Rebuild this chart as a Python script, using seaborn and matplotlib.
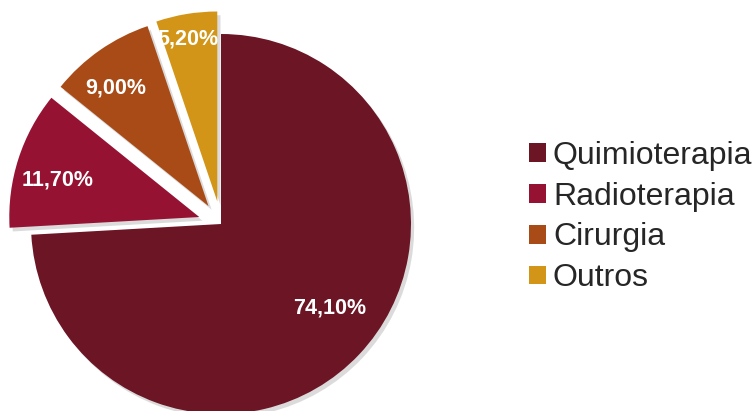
import matplotlib
matplotlib.use("Agg")
import matplotlib.pyplot as plt
import seaborn as sns
import numpy as np

categories = ["Quimioterapia", "Radioterapia", "Cirurgia", "Outros"]
values = [74.1, 11.7, 9.0, 5.2]
labels_pct = ["74,10%", "11,70%", "9,00%", "5,20%"]
colors = ["#6B1525", "#961232", "#A94B17", "#D39518"]
explode = [0.0, 0.12, 0.115, 0.12]
label_dist = [0.724, 0.769, 0.79, 0.868]
label_angle_off = [5.8, 3.1, 3.2, 1.0]

sns.set_theme(style="white")
plt.rcParams["font.family"] = ["Liberation Sans", "DejaVu Sans"]
palette = sns.color_palette(colors)

W, H = 755, 411
fig = plt.figure(figsize=(W / 100, H / 100), dpi=100)
R = 190
cx, cy = 221, 411 - 224
half = 1.25 * R
ax = fig.add_axes([(cx - half) / W, (cy - half) / H, 2 * half / W, 2 * half / H])
ax.set_xlim(-1.25, 1.25)
ax.set_ylim(-1.25, 1.25)
ax.set_aspect("equal")
ax.axis("off")

wedges, texts = ax.pie(values, colors=palette, startangle=90, counterclock=False,
                       explode=explode, radius=1.0,
                       shadow=dict(ox=0.012, oy=-0.014, facecolor="#9a9a9a",
                                   edgecolor="none", alpha=0.35),
                       wedgeprops=dict(linewidth=0))
for w, lab, d, off in zip(wedges, labels_pct, label_dist, label_angle_off):
    ang = np.deg2rad((w.theta1 + w.theta2) / 2 + off)
    x = w.center[0] + d * np.cos(ang)
    y = w.center[1] + d * np.sin(ang)
    ax.text(x, y, lab, ha="center", va="center", color="white",
            fontsize=15.5, fontweight="bold")

fig.legend(wedges, categories, loc="center left",
           bbox_to_anchor=(529 / W, 194 / H), frameon=False,
           fontsize=23, handlelength=0.53, handleheight=0.53,
           handletextpad=0.22, labelspacing=0.34, borderpad=0,
           borderaxespad=0)

fig.savefig("out.png", dpi=100)
